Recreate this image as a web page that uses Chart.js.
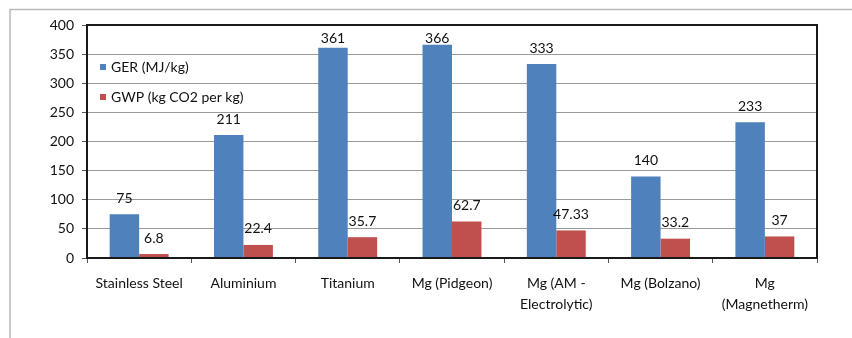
<!DOCTYPE html>
<html>
<head>
<meta charset="utf-8">
<script src="https://cdn.jsdelivr.net/npm/chart.js@4"></script>
<style>
  html, body { margin: 0; padding: 0; background: #fff; }
  #wrap { width: 852px; height: 338px; position: relative; }
</style>
</head>
<body>
<div id="wrap"><canvas id="chart" width="852" height="338"></canvas></div>
<script>
// chart data
var categories = ["Stainless Steel", "Aluminium", "Titanium", "Mg (Pidgeon)",
    ["Mg (AM -", "Electrolytic)"], "Mg (Bolzano)", ["Mg", "(Magnetherm)"]];
var gerValues = [75, 211, 361, 366, 333, 140, 233];
var gwpValues = [6.8, 22.4, 35.7, 62.7, 47.33, 33.2, 37];
var yTicks = [0, 50, 100, 150, 200, 250, 300, 350, 400];

var FONT = "Lato, 'Liberation Sans', sans-serif";

// outer frame, plot border, legend and value labels
var decor = {
    id: 'decor',
    beforeDraw: function(chart) {
        var ctx = chart.ctx;
        ctx.save();
        ctx.strokeStyle = '#b8b8b8';
        ctx.lineWidth = 1.5;
        ctx.beginPath();
        ctx.moveTo(10, 338);
        ctx.lineTo(10, 9.5);
        ctx.lineTo(852, 9.5);
        ctx.stroke();
        ctx.restore();
    },
    afterDraw: function(chart) {
        var ctx = chart.ctx;
        var a = chart.chartArea;
        ctx.save();
        ctx.strokeStyle = '#1a1a1a';
        ctx.lineWidth = 2;
        ctx.strokeRect(a.left, a.top, a.right - a.left, a.bottom - a.top);

        // value labels above the bars
        ctx.font = '14px ' + FONT;
        ctx.fillStyle = '#111';
        ctx.textAlign = 'center';
        ctx.textBaseline = 'middle';
        chart.data.datasets.forEach(function(ds, i) {
            chart.getDatasetMeta(i).data.forEach(function(bar, j) {
                var y = Math.max(bar.y - 16, 38);
                ctx.fillText(String(ds.data[j]), bar.x, y);
            });
        });

        // legend inside the plot
        ctx.textAlign = 'left';
        chart.data.datasets.forEach(function(ds, i) {
            var y = 67 + i * 30;
            ctx.fillStyle = ds.backgroundColor;
            ctx.fillRect(100, y - 3, 6, 6);
            ctx.fillStyle = '#111';
            ctx.fillText(ds.label, 111, y);
        });
        ctx.restore();
    }
};

new Chart(document.getElementById('chart'), {
    type: 'bar',
    data: {
        labels: categories,
        datasets: [
            {
                label: 'GER (MJ/kg)',
                backgroundColor: '#4F81BD',
                data: gerValues
            },
            {
                label: 'GWP (kg CO2 per kg)',
                backgroundColor: '#C0504D',
                data: gwpValues
            }
        ]
    },
    options: {
        responsive: false,
        animation: false,
        layout: { padding: { left: 0, right: 35, top: 25, bottom: 0 } },
        datasets: { bar: { barPercentage: 1, categoryPercentage: 0.565 } },
        plugins: {
            legend: { display: false },
            tooltip: { enabled: false }
        },
        scales: {
            x: {
                grid: {
                    offset: true,
                    drawOnChartArea: false,
                    drawTicks: true,
                    tickLength: 5,
                    color: '#555'
                },
                border: { display: false },
                ticks: {
                    color: '#111',
                    padding: 10,
                    maxRotation: 0,
                    autoSkip: false,
                    font: { family: FONT, size: 14, lineHeight: 1.5 }
                },
                afterFit: function(s) { s.height = 338 - 258; }
            },
            y: {
                min: 0,
                max: 400,
                afterBuildTicks: function(s) {
                    s.ticks = yTicks.map(function(v) { return { value: v }; });
                },
                grid: {
                    color: '#9a9a9a',
                    tickColor: '#555',
                    tickLength: 5
                },
                border: { display: false },
                ticks: {
                    color: '#111',
                    padding: 8,
                    font: { family: FONT, size: 14 }
                },
                afterFit: function(s) { s.width = 87; }
            }
        }
    },
    plugins: [decor]
});
</script>
</body>
</html>
